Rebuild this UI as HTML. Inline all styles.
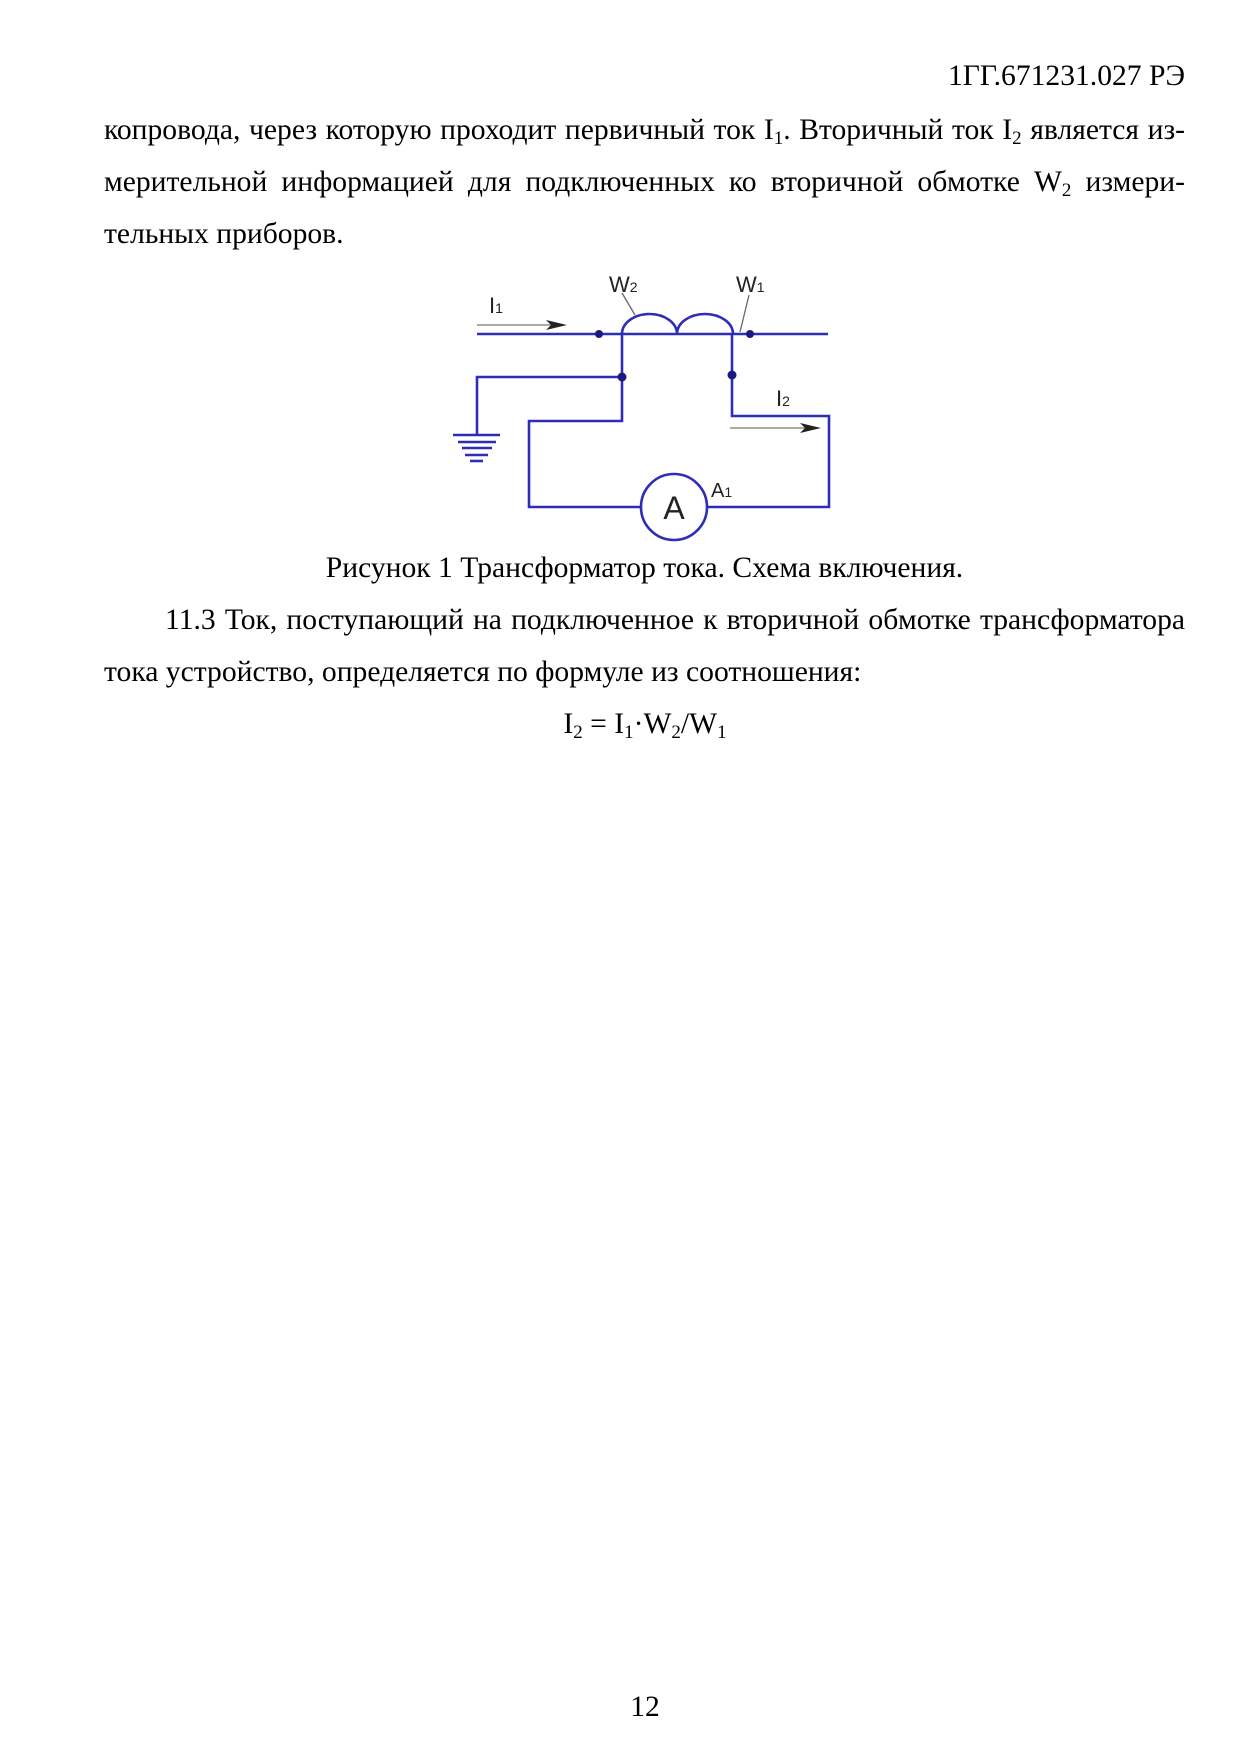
<!DOCTYPE html>
<html><head><meta charset="utf-8">
<style>
html,body{margin:0;padding:0;background:#fff;}
body{width:1241px;height:1755px;position:relative;overflow:hidden;font-family:"Liberation Serif","Noto Serif CJK SC",serif;color:#000;font-size:29.6px;}
.t{position:absolute;line-height:34px;white-space:nowrap;}
.j{position:absolute;left:104px;width:1081px;line-height:34px;text-align:justify;text-align-last:justify;white-space:nowrap;}
sub{font-size:19px;vertical-align:-5px;line-height:0;}
svg text{font-family:"Liberation Sans",sans-serif;fill:#222;}
</style></head><body>
<div class="t" style="right:56px;top:59px;">1ГГ.671231.027 РЭ</div>
<div class="j" style="top:113px;">копровода, через которую проходит первичный ток I<sub>1</sub>. Вторичный ток I<sub>2</sub> является из-</div>
<div class="j" style="top:165px;">мерительной информацией для подключенных ко вторичной обмотке W<sub>2</sub> измери-</div>
<div class="t" style="left:104px;top:217px;">тельных приборов.</div>

<svg style="position:absolute;left:0;top:0" width="1241" height="600">
<g stroke="#2d2db8" stroke-width="2.6" fill="none">
<line x1="477" y1="334" x2="828" y2="334"/>
<path d="M622 334 A27.5 20 0 0 1 677 334 A28 20 0 0 1 733 334"/>
<polyline points="622,334 622,421 529,421 529,507 641,507"/>
<polyline points="707,507 829,507 829,416 732,416 732,334"/>
<polyline points="622,377 477,377 477,435"/>
<circle cx="674" cy="507" r="33"/>
<line x1="453" y1="435" x2="500" y2="435"/>
<line x1="458" y1="442" x2="496" y2="442"/>
<line x1="462" y1="448" x2="492" y2="448"/>
<line x1="465" y1="455" x2="488" y2="455"/>
<line x1="470" y1="461" x2="483" y2="461"/>
</g>
<g fill="#1a1a80">
<circle cx="599" cy="334" r="4"/><circle cx="750" cy="334" r="4"/>
<circle cx="622" cy="377" r="4.5"/><circle cx="732" cy="375" r="4.5"/>
</g>
<g stroke="#aaa" stroke-width="2">
<line x1="477" y1="325" x2="555" y2="325"/>
<line x1="730" y1="428" x2="808" y2="428"/>
</g>
<polygon points="546,320 567,325 546,330 551,325" fill="#222"/>
<polygon points="800,423 821,428 800,433 805,428" fill="#222"/>
<g stroke="#667" stroke-width="1.3">
<line x1="622" y1="293" x2="635" y2="315"/>
<line x1="749" y1="295" x2="740" y2="332"/>
</g>
<text x="609" y="292" font-size="22">W<tspan font-size="14">2</tspan></text>
<text x="736" y="292" font-size="22">W<tspan font-size="14">1</tspan></text>
<text x="489" y="313" font-size="22">I<tspan font-size="14">1</tspan></text>
<text x="776" y="406" font-size="22">I<tspan font-size="14">2</tspan></text>
<text x="711" y="497" font-size="20">A<tspan font-size="14">1</tspan></text>
<text x="674" y="519" font-size="32" text-anchor="middle">A</text>
</svg>

<div class="t" style="left:0;width:1289px;text-align:center;top:551px;">Рисунок 1 Трансформатор тока. Схема включения.</div>
<div class="j" style="top:603px;padding-left:61px;width:1020px;">11.3 Ток, поступающий на подключенное к вторичной обмотке трансформатора</div>
<div class="t" style="left:104px;top:655px;">тока устройство, определяется по формуле из соотношения:</div>
<div class="t" style="left:0;width:1290px;text-align:center;top:707px;">I<sub>2</sub> = I<sub>1</sub>·W<sub>2</sub>/W<sub>1</sub></div>
<div class="t" style="left:0;width:1290px;text-align:center;top:1690px;">12</div>
</body></html>
